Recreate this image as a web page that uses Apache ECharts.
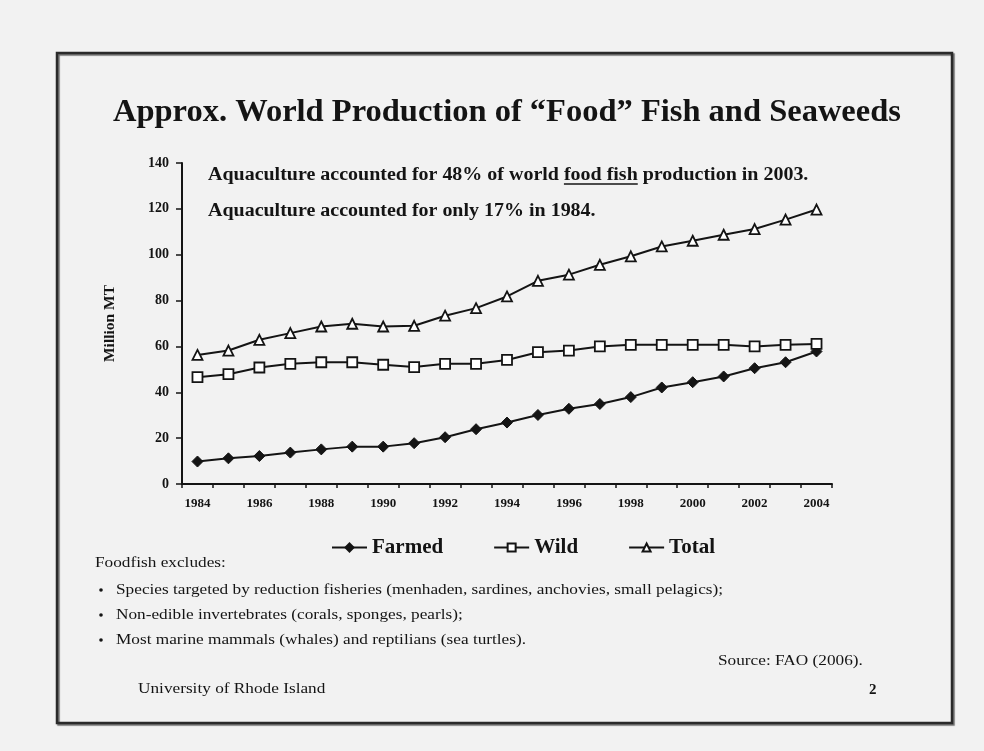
<!DOCTYPE html>
<html>
<head>
<meta charset="utf-8">
<title>Approx. World Production of “Food” Fish and Seaweeds</title>
<script src="https://cdn.jsdelivr.net/npm/echarts@6/dist/echarts.min.js"></script>
<style>
  html, body { margin: 0; padding: 0; background: #f2f2f2; }
  #chart { width: 984px; height: 751px; }
</style>
</head>
<body>
<div id="chart"></div>
<script>
// Years on the category axis
const years = ['1984','1985','1986','1987','1988','1989','1990','1991','1992','1993','1994',
               '1995','1996','1997','1998','1999','2000','2001','2002','2003','2004'];

// Production, million metric tonnes
const farmed = [9.8, 11.2, 12.2, 13.7, 15.1, 16.3, 16.3, 17.8, 20.4, 23.9, 26.8,
                30.1, 32.8, 34.9, 37.9, 42.1, 44.4, 46.9, 50.5, 53.1, 57.8];
const wild   = [46.6, 47.9, 50.8, 52.4, 53.1, 53.1, 52.0, 51.0, 52.4, 52.4, 54.1,
                57.5, 58.2, 60.0, 60.7, 60.7, 60.7, 60.7, 60.0, 60.7, 61.1];
const total  = [56.3, 58.2, 62.9, 65.8, 68.7, 69.9, 68.7, 69.0, 73.4, 76.7, 81.8,
                88.6, 91.3, 95.6, 99.3, 103.6, 106.1, 108.7, 111.2, 115.3, 119.7];

// Text blocks
const titleText = 'Approx. World Production of “Food” Fish and Seaweeds';
const noteLine1 = ['Aquaculture accounted for 48% of world ', 'food fish', ' production in 2003.'];
const noteLine2 = 'Aquaculture accounted for only 17% in 1984.';
const excludesHead = 'Foodfish excludes:';
const excludesItems = [
  'Species targeted by reduction fisheries (menhaden, sardines, anchovies, small pelagics);',
  'Non-edible invertebrates (corals, sponges, pearls);',
  'Most marine mammals (whales) and reptilians (sea turtles).'
];
const sourceText = 'Source: FAO (2006).';
const footerText = 'University of Rhode Island';
const pageNumber = '2';

const SERIF = '"Liberation Serif", "Times New Roman", serif';
const INK = '#141414';

// the slide face is set a little wide; body text is stretched horizontally to suit
const NOTE_FONT = 'bold 18px ' + SERIF;
const NOTE_SX = 1.11;
const BODY_FONT = '15px ' + SERIF;
const BODY_SX = 1.15;

// measure text so the underline sits exactly under "food fish"
const ctx = document.createElement('canvas').getContext('2d');
function textWidth(str, font) { ctx.font = font; return ctx.measureText(str).width; }
const noteX = 208, noteY1 = 175, noteY2 = 211;
const ulStart = noteX + NOTE_SX * textWidth(noteLine1[0], NOTE_FONT);
const ulEnd = ulStart + NOTE_SX * textWidth(noteLine1[1], NOTE_FONT);

function bodyText(str, x, y, font, sx) {
  return { type: 'text', x: x, y: y, scaleX: sx,
    style: { text: str, font: font, fill: INK, verticalAlign: 'middle' } };
}

const chart = echarts.init(document.getElementById('chart'), null, { renderer: 'canvas' });

const graphics = [
  // slide frame
  { type: 'rect', shape: { x: 57, y: 53, width: 895, height: 670 },
    style: { fill: 'rgba(0,0,0,0)', stroke: '#2a2a2a', lineWidth: 2.5,
             shadowColor: 'rgba(0,0,0,0.55)', shadowOffsetX: 1.5, shadowOffsetY: 1.5, shadowBlur: 1 }, z: 0 },
  bodyText(titleText, 113, 113, 'bold 32.5px ' + SERIF, 1),
  bodyText(noteLine1.join(''), noteX, noteY1, NOTE_FONT, NOTE_SX),
  { type: 'line', shape: { x1: ulStart, y1: noteY1 + 9, x2: ulEnd, y2: noteY1 + 9 },
    style: { stroke: INK, lineWidth: 1.3 } },
  bodyText(noteLine2, noteX, noteY2, NOTE_FONT, NOTE_SX),
  bodyText(excludesHead, 95, 563, BODY_FONT, BODY_SX),
  bodyText(sourceText, 718, 661, BODY_FONT, BODY_SX),
  bodyText(footerText, 138, 689, BODY_FONT, BODY_SX),
  bodyText(pageNumber, 869, 690, 'bold 15px ' + SERIF, 1)
];
excludesItems.forEach(function (item, i) {
  const y = 590 + i * 25;
  graphics.push({ type: 'circle', shape: { cx: 101, cy: y, r: 1.8 }, style: { fill: INK } });
  graphics.push(bodyText(item, 116, y, BODY_FONT, BODY_SX));
});

const lineStyle = { color: INK, width: 2 };

chart.setOption({
  backgroundColor: '#f2f2f2',
  animation: false,
  textStyle: { fontFamily: SERIF, color: INK },
  grid: { left: 182, right: 152, top: 163, bottom: 267, containLabel: false },
  legend: {
    left: 326, top: 532, itemWidth: 35, itemHeight: 10, itemGap: 50,
    textStyle: { fontFamily: SERIF, fontSize: 21, fontWeight: 'bold', color: INK },
    data: ['Farmed', 'Wild', 'Total']
  },
  xAxis: {
    type: 'category', data: years, boundaryGap: true,
    axisLine: { lineStyle: { color: INK, width: 2 } },
    axisTick: { show: true, interval: 0, length: 4, lineStyle: { color: INK, width: 1.5 } },
    axisLabel: { interval: 1, margin: 13, fontFamily: SERIF, fontWeight: 'bold', fontSize: 13, color: INK }
  },
  yAxis: {
    type: 'value', min: 0, max: 140, interval: 20,
    name: 'Million MT', nameLocation: 'middle', nameRotate: 90, nameGap: 64,
    nameTextStyle: { fontFamily: SERIF, fontWeight: 'bold', fontSize: 15.5, color: INK },
    axisLine: { show: true, lineStyle: { color: INK, width: 2 } },
    axisTick: { show: true, length: 6, lineStyle: { color: INK, width: 1.5 } },
    splitLine: { show: false },
    axisLabel: { margin: 13, fontFamily: SERIF, fontWeight: 'bold', fontSize: 14, color: INK }
  },
  series: [
    { name: 'Farmed', type: 'line', data: farmed, symbol: 'diamond', symbolSize: 11,
      lineStyle: lineStyle, itemStyle: { color: INK, borderColor: INK, borderWidth: 1 } },
    { name: 'Wild', type: 'line', data: wild, symbol: 'rect', symbolSize: 10,
      lineStyle: lineStyle, itemStyle: { color: '#ffffff', borderColor: INK, borderWidth: 1.8 } },
    { name: 'Total', type: 'line', data: total, symbol: 'triangle', symbolSize: 10,
      lineStyle: lineStyle, itemStyle: { color: '#ffffff', borderColor: INK, borderWidth: 1.8 } }
  ],
  graphic: graphics
});
</script>
</body>
</html>
